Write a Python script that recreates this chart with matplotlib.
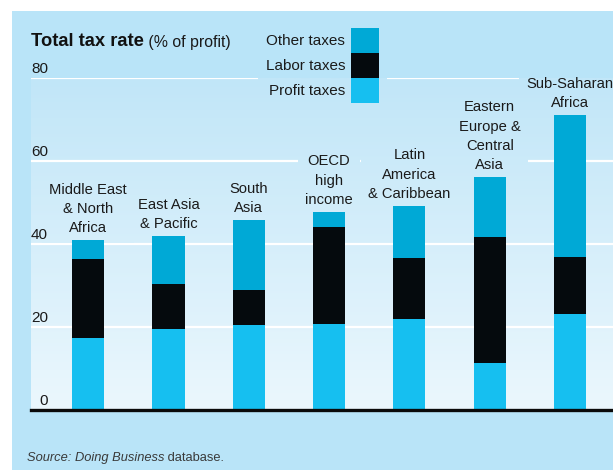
import numpy as np
import matplotlib
matplotlib.use("Agg")
import matplotlib.pyplot as plt
from matplotlib.patches import Rectangle, Patch
from matplotlib.colors import LinearSegmentedColormap

plt.rcParams['font.family'] = ['Liberation Sans', 'DejaVu Sans']

# ---------------- data ----------------
regions = ["Middle East\n& North\nAfrica", "East Asia\n& Pacific", "South\nAsia",
           "OECD\nhigh\nincome", "Latin\nAmerica\n& Caribbean",
           "Eastern\nEurope &\nCentral\nAsia", "Sub-Saharan\nAfrica"]
profit_taxes = [17.3, 19.5, 20.5, 20.7, 21.9, 11.3, 23.1]
labor_taxes = [19.2, 10.9, 8.4, 23.4, 14.7, 30.4, 13.8]
other_taxes = [4.4, 11.5, 16.9, 3.6, 12.6, 14.4, 34.2]
yticks = [0, 20, 40, 60, 80]
series_names = ["Other taxes", "Labor taxes", "Profit taxes"]

# ---------------- style ----------------
C_OTHER = "#00a9d6"
C_LABOR = "#050a0d"
C_PROFIT = "#16bff0"
PANEL = "#b9e4f8"
GRAD_TOP = "#c1e6f8"
GRAD_BOT = "#ebf7fd"
TXT = "#1a1a1a"

W, H = 613, 472
fig = plt.figure(figsize=(W / 100, H / 100), dpi=100)
fig.patch.set_facecolor("white")
fig.patches.append(Rectangle((12 / W, 2 / H), 1 - 12 / W, (H - 13) / H,
                             transform=fig.transFigure, facecolor=PANEL,
                             edgecolor="none", zorder=-10))

ax = fig.add_axes([31 / W, 62 / H, (W - 31) / W, 332 / H])
ax.set_facecolor("none")
x = np.arange(len(regions))
xlim = (-0.712, 6.535)
ax.set_xlim(*xlim)
ax.set_ylim(0, 80)

cmap = LinearSegmentedColormap.from_list("g", [GRAD_BOT, GRAD_TOP])
grad = np.linspace(0, 1, 256)[:, None]

def gradient(z):
    return ax.imshow(grad, extent=(xlim[0], xlim[1], 0, 80), origin="lower",
                     aspect="auto", cmap=cmap, zorder=z)

gradient(0)

ax.set_yticks(yticks)
ax.set_yticklabels([])
ax.set_xticks([])
ax.tick_params(axis="y", length=0)
ax.yaxis.grid(True, color="white", lw=1.6, zorder=0.5)
ax.set_axisbelow(True)
for s in ["top", "left", "right"]:
    ax.spines[s].set_visible(False)
ax.spines["bottom"].set_color("#0a0a0a")
ax.spines["bottom"].set_linewidth(2.4)
ax.spines["bottom"].set_zorder(5)

bw = 0.4
profit = np.array(profit_taxes)
labor = np.array(labor_taxes)
other = np.array(other_taxes)
ax.bar(x, profit, bw, color=C_PROFIT, zorder=2)
ax.bar(x, labor, bw, bottom=profit, color=C_LABOR, zorder=2)
ax.bar(x, other, bw, bottom=profit + labor, color=C_OTHER, zorder=2)

for v in yticks:
    ax.annotate(str(v), xy=(0, v), xycoords=("axes fraction", "data"),
                xytext=(17, 5), textcoords="offset pixels", ha="right",
                va="baseline", fontsize=11, color=TXT)

totals = profit + labor + other
label_artists = []
for xi, tot, lab in zip(x, totals, regions):
    a = ax.annotate(lab, xy=(xi, tot), xytext=(0, 8), textcoords="offset pixels",
                    ha="center", va="baseline", fontsize=10.6, color=TXT,
                    linespacing=1.48, annotation_clip=False, zorder=3,
                    bbox=dict(boxstyle="square,pad=0.5", fc="none", ec="none"))
    label_artists.append(a)

# legend
handles = [Patch(facecolor=c, edgecolor="none") for c in (C_OTHER, C_LABOR, C_PROFIT)]
fs = 11
fpx = fs * 100 / 72
hh = (25 / fpx - 0.245) / 0.65
leg = fig.legend(handles, series_names, loc="upper right",
                 bbox_to_anchor=(387 / W, 1 - 20 / H), fontsize=fs,
                 markerfirst=False, handlelength=28 / fpx, handleheight=hh,
                 labelspacing=0, handletextpad=6 / fpx, borderpad=8 / fpx,
                 borderaxespad=0, frameon=True, fancybox=False)
leg.get_frame().set_facecolor("none")
leg.get_frame().set_edgecolor("none")
for t in leg.get_texts():
    t.set_color(TXT)

# title
t1 = fig.text(31 / W, 1 - 46 / H, "Total tax rate", fontsize=13.2,
              fontweight="bold", color="#111111", va="baseline", ha="left")
ax.annotate(" (% of profit)", xy=(1, 0), xycoords=t1, xytext=(0, 0),
            textcoords="offset pixels", va="bottom", ha="left",
            fontsize=11.4, color=TXT, annotation_clip=False)

# source
s1 = fig.text(27 / W, 1 - 461 / H, "Source: Doing Business", fontsize=9.3,
              style="italic", color="#3a3a3a", va="baseline", ha="left")
ax.annotate(" database.", xy=(1, 0), xycoords=s1, va="bottom", ha="left",
            fontsize=9.3, color="#3a3a3a", annotation_clip=False)

# lay out once so label boxes have positions, then break the gridlines there
fig.canvas.draw()
for a in label_artists:
    im = gradient(1)
    im.set_clip_path(a.get_bbox_patch())
im = gradient(1)
im.set_clip_path(leg.get_frame())

fig.savefig("out.png", dpi=100)
